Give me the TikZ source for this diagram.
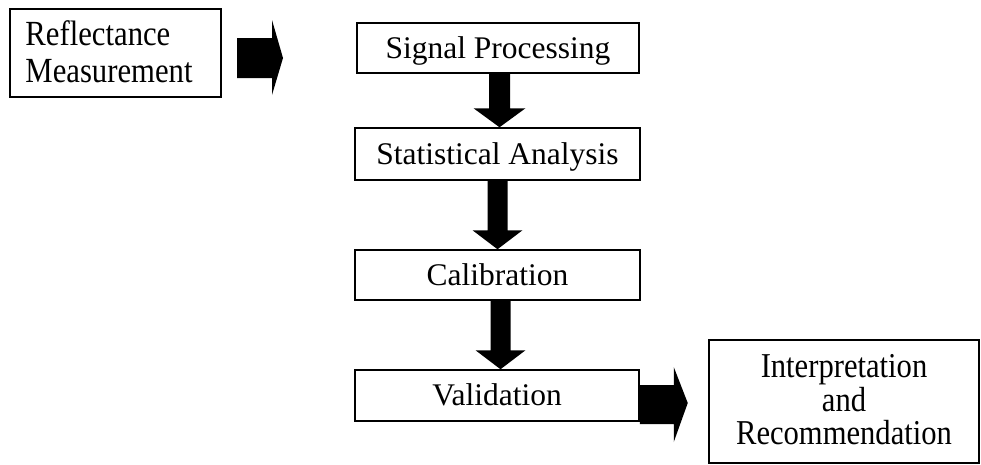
\documentclass[tikz,border=0pt]{standalone}
\usepackage{fontspec}
\usepackage{graphicx}
\setmainfont{Liberation Serif}
\usetikzlibrary{calc}
\tikzset{
  box/.style={draw=black, line width=1.5pt, inner sep=0pt, font=\fontsize{31.5}{36}\selectfont},
  onebox/.style={box, text height=26.8pt, text depth=6.8pt},
  blk/.style={fill=black},
}
\newcommand{\blockdown}[5]{% from, to, x-offset, shaft half, head half
  \fill[blk] let \p1=(#1.south), \p2=(#2.north) in
    (\x1+#3pt-#4pt,\y1) -- (\x1+#3pt+#4pt,\y1) -- (\x1+#3pt+#4pt,\y2+19pt) --
    (\x1+#3pt+#5pt,\y2+19pt) -- (\x1+#3pt,\y2) -- (\x1+#3pt-#5pt,\y2+19pt) --
    (\x1+#3pt-#4pt,\y2+19pt) -- cycle;}
\begin{document}
\begin{tikzpicture}[x=1pt,y=-1pt]
\useasboundingbox (0,0) rectangle (981,464);
\node[box, minimum width=211pt, minimum height=88pt] (b1) at (115.5,53)
  {\hspace{-13pt}\fontsize{30.7}{32}\selectfont\raisebox{-4pt}[\height][\depth]{\scalebox{1}[1.15]{\begin{tabular}{@{}l@{}}Reflectance\\Measurement\end{tabular}}}};
\node[onebox, minimum width=282pt, minimum height=50pt] (b2) at (498,48) {Signal Processing};
\node[onebox, minimum width=285pt, minimum height=52pt] (b3) at (497.5,154) {Statistical Analysis};
\node[onebox, minimum width=285pt, minimum height=50pt] (b4) at (497.5,275) {Calibration};
\node[onebox, minimum width=284pt, minimum height=51pt] (b5) at (497,395.5) {Validation};
\node[box, minimum width=270pt, minimum height=123pt] (b6) at (844,401.5)
  {\fontsize{30.6}{27.5}\selectfont\raisebox{-3pt}[\height][\depth]{\scalebox{1}[1.14]{\begin{tabular}{@{}c@{}}Interpretation\\and\\Recommendation\end{tabular}}}};
% right arrow 1 (free standing)
\coordinate (a1s) at (237,58);
\coordinate (a1t) at (283,58);
\fill[blk] ($(a1s)+(0,-20)$) -- ($(a1s)+(35,-20)$) -- ($(a1s)+(35,-38)$) -- (a1t)
  -- ($(a1s)+(35,37)$) -- ($(a1s)+(35,20)$) -- ($(a1s)+(0,20)$) -- cycle;
% down arrows
\blockdown{b2}{b3}{1.5}{10.5}{26}
\blockdown{b3}{b4}{0}{10}{25}
\blockdown{b4}{b5}{3}{10}{25}
% right arrow 2
\fill[blk] let \p1=(b5.east), \p2=(b6.west) in
  (\x1,\y1+10.5pt) -- (\x1+34pt,\y1+10.5pt) -- (\x1+34pt,\y1+28.5pt) -- (\x1+48pt,\y1-7.5pt)
  -- (\x1+34pt,\y1-46.5pt) -- (\x1+34pt,\y1-28.5pt) -- (\x1,\y1-28.5pt) -- cycle;
\end{tikzpicture}
\end{document}
